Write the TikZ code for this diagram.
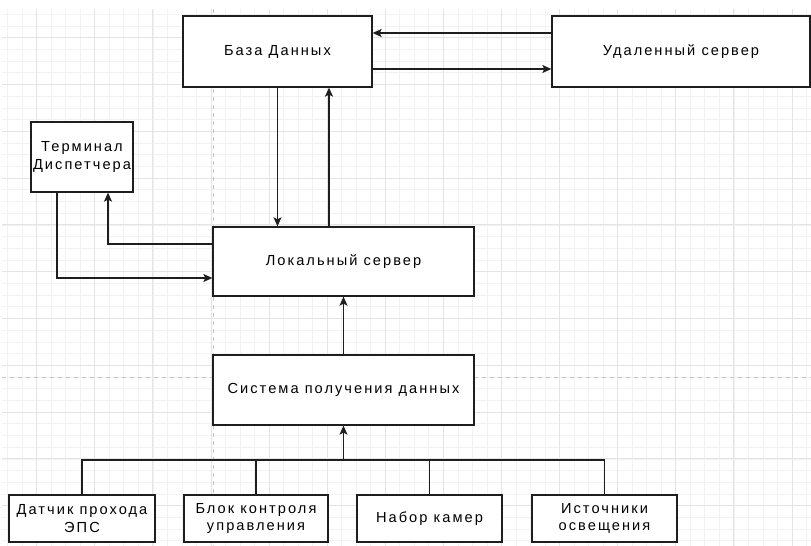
\documentclass[tikz,border=0pt]{standalone}
\usepackage{fontspec}
\setmainfont{Liberation Sans}[LetterSpace=14]
\usetikzlibrary{arrows.meta}
\definecolor{gmaj}{HTML}{E4E4E4}
\definecolor{gmin}{HTML}{F2F2F2}
\definecolor{pagebr}{HTML}{C4C4C4}
\definecolor{ink}{HTML}{1E1E1E}
\tikzset{
  box/.style={draw=ink, line width=1.3pt, fill=white, inner sep=0pt, align=center,
    font=\fontsize{14.6}{17.5}\selectfont},
  conn/.style={draw=ink, line width=1.3pt},
  arr/.style={conn, -{Stealth[length=9pt,width=8pt,inset=2pt]}},
  minorline/.style={draw=gmin, line width=0.8pt},
  majorline/.style={draw=gmaj, line width=1pt},
  pagebreak/.style={draw=pagebr, line width=0.8pt, dash pattern=on 4pt off 4pt}
}
\begin{document}
\begin{tikzpicture}[x=1pt,y=-1pt]
\useasboundingbox (0,0) rectangle (811,546);
\fill[white] (0,0) rectangle (811,546);
% grid
\foreach \i in {0,...,55} {\draw[minorline] ({7.65+\i*14.525},9) -- ({7.65+\i*14.525},546);}
\foreach \i in {0,...,45} {\draw[minorline] (2,{14.3+\i*11.7}) -- (811,{14.3+\i*11.7});}
\foreach \i in {0,...,13} {\draw[majorline] ({36.7+\i*58.1},9) -- ({36.7+\i*58.1},546);}
\foreach \i in {0,...,10} {\draw[majorline] (2,{37.7+\i*46.8}) -- (811,{37.7+\i*46.8});}
\draw[pagebreak] (213,9) -- (213,546);
\draw[pagebreak] (2,377) -- (811,377);
% nodes
\node[box, minimum width=189pt, minimum height=71pt] (db) at (277.5,51.5) {База Данных};
\node[box, minimum width=258pt, minimum height=71pt] (remote) at (681,51.5) {Удаленный сервер};
\node[box, minimum width=102pt, minimum height=70pt] (term) at (82,157) {Терминал\\Диспетчера};
\node[box, minimum width=261pt, minimum height=69pt] (local) at (343.5,261.5) {Локальный сервер};
\node[box, minimum width=261pt, minimum height=70pt] (sys) at (343.5,390) {Система получения данных};
\node[box, minimum width=146pt, minimum height=47pt] (b1) at (82,518.5) {Датчик прохода\\ЭПС};
\node[box, minimum width=144pt, minimum height=47pt] (b2) at (256,518.5) {Блок контроля\\управления};
\node[box, minimum width=145pt, minimum height=47pt] (b3) at (429.5,518.5) {Набор камер};
\node[box, minimum width=145pt, minimum height=47pt] (b4) at (604.5,518.5) {Источники\\освещения};
\coordinate (bus) at (343.5,460);
% connectors
\draw[arr] ([yshift=18.5pt]remote.west) -- ([yshift=18.5pt]db.east);
\draw[arr] ([yshift=-17.5pt]db.east) -- ([yshift=-17.5pt]remote.west);
\draw[arr] (db.south) -- (db.south |- local.north);
\draw[arr] ([xshift=-14.5pt]local.north) -- ([xshift=51.5pt]db.south);
\draw[arr] ([yshift=17.5pt]local.west) -| ([xshift=26pt]term.south);
\draw[arr] ([xshift=-25pt]term.south) |- ([yshift=-16.5pt]local.west);
\draw[arr] (sys.north) -- (local.south);
\draw[conn] (b1.north) |- (bus) -| (b4.north);
\draw[conn] (b2.north) -- (b2.north |- bus);
\draw[conn] (b3.north) -- (b3.north |- bus);
\draw[arr] (bus) -- (sys.south);
\end{tikzpicture}
\end{document}
